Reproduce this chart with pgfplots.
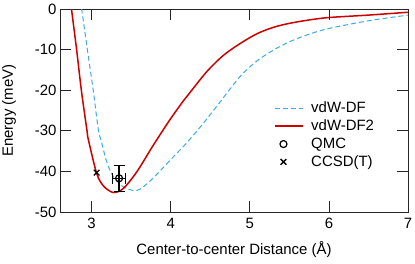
\documentclass[border=0pt]{standalone}
\usepackage{pgfplots}
\pgfplotsset{compat=1.18}
\usepackage{fontspec}
\setmainfont{Liberation Sans}
\definecolor{dfblue}{RGB}{60,170,230}
\definecolor{dfred}{RGB}{205,0,0}
\pgfplotsset{
  bluelegend/.style={legend image code/.code={\draw[dfblue, line width=1bp, dash pattern=on 5bp off 3bp] (0bp,0bp) -- (28bp,0bp); \path (34bp,0bp);}},
  redlegend/.style={legend image code/.code={\draw[dfred, line width=1.5bp] (0bp,0bp) -- (28bp,0bp); \path (34bp,0bp);}},
}
\begin{document}
\begin{tikzpicture}
\begin{axis}[
  name=ax,
  scale only axis,
  width=348bp, height=203bp,
  xmin=2.6, xmax=7, ymin=-50, ymax=0,
  xtick={3,4,5,6,7}, ytick={-50,-40,-30,-20,-10,0},
  major tick length=0.388cm,
  axis line style={line width=0.8bp, black!85},
  every tick/.append style={black!85, line width=0.8bp},
  /pgf/number format/assume math mode=true,
  tick label style={font=\fontsize{15}{18}\selectfont},
  xticklabel style={yshift=-3bp},
  xlabel={Center-to-center Distance (Å)},
  ylabel={Energy (meV)},
  every axis x label/.style={at={(rel axis cs:0.5,0)}, anchor=center, yshift=-38bp, font=\fontsize{15}{18}\selectfont},
  every axis y label/.style={at={(rel axis cs:-0.1466,0.5)}, rotate=90, anchor=center, font=\fontsize{15}{18}\selectfont},
  legend cell align=left,
  legend style={draw=none, fill=none, at={(rel axis cs:0.615,0.55)}, anchor=north west,
    font=\fontsize{15}{18}\selectfont, row sep=2.7bp, inner sep=0pt,
    nodes={inner sep=1.5bp}},
]
\addplot[dfblue, line width=1bp, dash pattern=on 5bp off 3bp, smooth, tension=0.5, bluelegend] coordinates {
(2.83,6) (2.874,0) (2.946,-10) (3.02,-20) (3.085,-29.8) (3.119,-32.3) (3.19,-37.6)
(3.275,-41.3) (3.4,-43.8) (3.53,-44.7) (3.62,-44.3) (3.78,-41.6) (3.99,-37.3)
(4.2,-33.0) (4.41,-28.2) (4.62,-23.0) (4.878,-16.6) (5.09,-12.8) (5.3,-10.1)
(5.51,-8.0) (5.75,-6.2) (6.0,-4.8) (6.5,-2.9) (7.0,-1.5)};
\addlegendentry{vdW-DF}
\addplot[dfred, line width=1.5bp, smooth, tension=0.5, redlegend] coordinates {
(2.70,7) (2.745,0) (2.81,-10) (2.87,-20) (2.94,-29.8) (2.96,-32.3) (3.064,-40.5)
(3.15,-43.6) (3.275,-45.2) (3.401,-44.2) (3.571,-40.1) (3.781,-33.5) (3.992,-27.2)
(4.161,-22.6) (4.246,-20.5) (4.457,-15.4) (4.667,-11.4) (4.878,-8.5) (5.09,-6.1)
(5.3,-4.5) (5.51,-3.5) (5.75,-2.7) (6.0,-2.1) (6.5,-1.5) (7.0,-0.8)};
\addlegendentry{vdW-DF2}
\addplot[black, only marks, mark=o, mark size=3.5bp, line width=1.2bp,
  error bars/.cd, x dir=both, x explicit, y dir=both, y explicit,
  error bar style={line width=1.2bp, black},
  error mark options={rotate=90, mark size=5.5bp, line width=1.2bp, black}]
  coordinates {(3.347,-41.7) +- (0.085,3.2)};
\addlegendentry{QMC}
\addplot[black, only marks, mark=x, mark size=4bp, line width=1.3bp]
  coordinates {(3.064,-40.3)};
\addlegendentry{CCSD(T)}
\pgfplotsinvokeforeach{3,4,5,6}{
  \draw[black!85, line width=0.8bp] (axis cs:#1,-50) -- (axis cs:#1,-47.3);
  \draw[black!85, line width=0.8bp] (axis cs:#1,0) -- (axis cs:#1,-2.7);
}
\pgfplotsinvokeforeach{-40,-30,-20,-10}{
  \draw[black!85, line width=0.8bp] (axis cs:2.6,#1) -- (axis cs:2.739,#1);
  \draw[black!85, line width=0.8bp] (axis cs:7,#1) -- (axis cs:6.861,#1);
}
\end{axis}
\pgfresetboundingbox
\path ([shift={(-60bp,-52bp)}]ax.south west) rectangle ([shift={(7bp,9bp)}]ax.north east);
\end{tikzpicture}
\end{document}
